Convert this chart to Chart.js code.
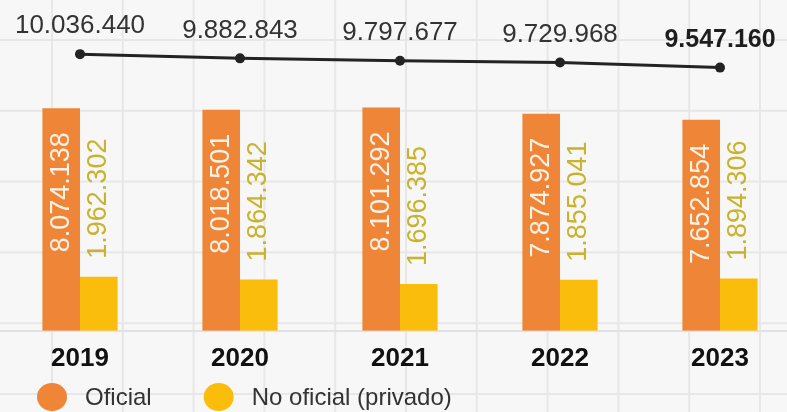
<!DOCTYPE html>
<html lang="es">

<head>
  <title>Oficial vs No oficial</title>
  <script src="https://cdn.jsdelivr.net/npm/chart.js"></script>
  <style>
    html, body { margin: 0; padding: 0; overflow: hidden; }
    body {
      width: 787px; height: 412px;
      background-color: #f7f7f7;
      background-image:
        linear-gradient(to right, #e7e7e7 2px, transparent 2px),
        linear-gradient(to bottom, #e7e7e7 2px, transparent 2px);
      background-size: 70.8px 70.8px;
      background-position: 51px 39px;
    }
    #wrap { position: relative; width: 800px; height: 412px; }
  </style>
</head>

<body>
  <div id="wrap">
    <canvas id="myChart" width="800" height="412"></canvas>
  </div>
  <script>
    var years = ['2019', '2020', '2021', '2022', '2023'];
    var oficial = [8074138, 8018501, 8101292, 7874927, 7652854];
    var privado = [1962302, 1864342, 1696385, 1855041, 1894306];
    var total = [10036440, 9882843, 9797677, 9729968, 9547160];

    function fmt(v) {
      return v.toString().replace(/\B(?=(\d{3})+(?!\d))/g, '.');
    }

    // value labels: totals over the line, rotated numbers on the bars
    const valueLabels = {
      id: 'valueLabels',
      afterDatasetsDraw(chart) {
        const ctx = chart.ctx;
        ctx.save();
        // totals
        const lm = chart.getDatasetMeta(2);
        lm.data.forEach(function (p, i) {
          const last = i === lm.data.length - 1;
          ctx.font = (last ? 'bold 25px' : '26px') + ' "Liberation Sans", Arial, sans-serif';
          ctx.fillStyle = last ? '#1e1e1e' : '#333';
          ctx.textAlign = 'center';
          ctx.textBaseline = 'middle';
          ctx.fillText(fmt(total[i]), p.x, p.y - 28);
        });
        // oficial, white inside the bar
        chart.getDatasetMeta(0).data.forEach(function (b, i) {
          ctx.save();
          ctx.translate(b.x, b.y + 24);
          ctx.rotate(-Math.PI / 2);
          ctx.font = '27px "Liberation Sans", Arial, sans-serif';
          ctx.fillStyle = 'rgba(255,247,240,0.95)';
          ctx.textAlign = 'right';
          ctx.textBaseline = 'middle';
          ctx.fillText(fmt(oficial[i]), 0, 0);
          ctx.restore();
        });
        // privado, above the bar
        chart.getDatasetMeta(1).data.forEach(function (b, i) {
          ctx.save();
          ctx.translate(b.x, b.y - 18);
          ctx.rotate(-Math.PI / 2);
          ctx.font = '27px "Liberation Sans", Arial, sans-serif';
          ctx.fillStyle = '#c9b22c';
          ctx.textAlign = 'left';
          ctx.textBaseline = 'middle';
          ctx.fillText(fmt(privado[i]), 0, 0);
          ctx.restore();
        });
        ctx.restore();
      }
    };

    // legend at the bottom left with round markers
    const dotLegend = {
      id: 'dotLegend',
      afterDraw(chart) {
        const ctx = chart.ctx;
        ctx.save();
        ctx.font = '24px "Liberation Sans", Arial, sans-serif';
        ctx.textBaseline = 'middle';
        ctx.textAlign = 'left';
        let x = 37;
        const y = 397;
        [0, 1].forEach(function (i) {
          const ds = chart.data.datasets[i];
          ctx.fillStyle = ds.backgroundColor;
          ctx.beginPath();
          ctx.ellipse(x + 15, y, 15, 14, 0, 0, Math.PI * 2);
          ctx.fill();
          ctx.fillStyle = '#333';
          ctx.fillText(ds.label, x + 48, y + 1);
          x = x + 48 + ctx.measureText(ds.label).width + 52;
        });
        ctx.restore();
      }
    };

    const ctx = document.getElementById('myChart');

    new Chart(ctx, {
      data: {
        labels: years,
        datasets: [{
          type: 'bar',
          label: 'Oficial',
          data: oficial,
          backgroundColor: '#ef8536',
          barPercentage: 1,
          categoryPercentage: 0.47,
          order: 2
        }, {
          type: 'bar',
          label: 'No oficial (privado)',
          data: privado,
          backgroundColor: '#fbbd0c',
          barPercentage: 1,
          categoryPercentage: 0.47,
          order: 2
        }, {
          type: 'line',
          label: 'Total',
          data: total,
          borderColor: '#232323',
          borderWidth: 3,
          pointRadius: 5,
          pointBackgroundColor: '#232323',
          pointBorderWidth: 0,
          tension: 0,
          clip: false,
          order: 1
        }]
      },
      options: {
        responsive: false,
        animation: false,
        layout: { autoPadding: false, padding: { left: 0, right: 0, top: 0, bottom: 26 } },
        plugins: {
          legend: { display: false },
          tooltip: { enabled: false }
        },
        scales: {
          x: {
            grid: { display: false, drawTicks: false },
            border: { display: true, color: '#e2e2e2', width: 2 },
            ticks: {
              padding: 12,
              maxRotation: 0,
              color: '#111',
              font: { family: '"Liberation Sans", Arial, sans-serif', size: 26, weight: 'bold' }
            }
          },
          y: {
            display: false,
            min: 0,
            max: 12000000
          }
        }
      },
      plugins: [valueLabels, dotLegend]
    });
  </script>
</body>

</html>
